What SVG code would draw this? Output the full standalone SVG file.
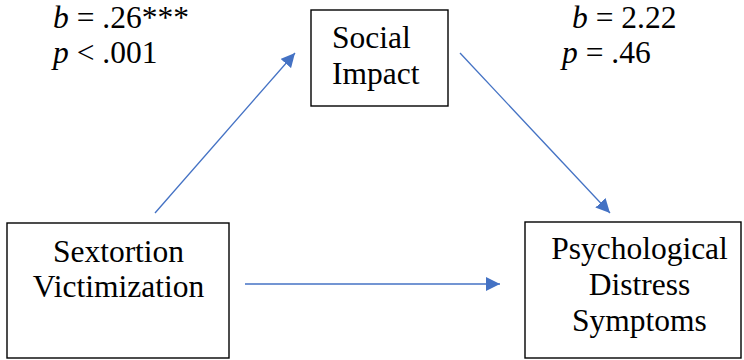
<svg xmlns="http://www.w3.org/2000/svg" width="744" height="360" viewBox="0 0 744 360">
<style>
.box{fill:#fff;stroke:#000;stroke-width:1.4}
.t{font-family:'Liberation Serif','Times New Roman',serif;font-size:31.5px;fill:#000}
.c{stroke:#4472C4;stroke-width:1.3;fill:none}
</style>
<defs>
<marker id="ah" viewBox="0 0 14 14" refX="14" refY="7" markerWidth="14" markerHeight="14" markerUnits="userSpaceOnUse" orient="auto">
<path d="M0,0 L14,7 L0,14 Z" fill="#4472C4"/>
</marker>
</defs>
<rect width="744" height="360" fill="#fff"/>
<g id="connectors">
<line class="c" x1="155" y1="213" x2="295" y2="53" marker-end="url(#ah)"/>
<line class="c" x1="460" y1="53" x2="610" y2="213" marker-end="url(#ah)"/>
<line class="c" x1="245" y1="284" x2="500" y2="284" marker-end="url(#ah)"/>
</g>
<g id="social-impact">
<rect class="box" x="311" y="10" width="137" height="96"/>
<text class="t" x="332" y="48">Social</text>
<text class="t" x="332" y="84">Impact</text>
</g>
<g id="sextortion-victimization">
<rect class="box" x="7" y="223" width="222" height="135"/>
<text class="t" x="118.5" y="262" text-anchor="middle">Sextortion</text>
<text class="t" x="118.5" y="297" text-anchor="middle">Victimization</text>
</g>
<g id="psychological-distress">
<rect class="box" x="525" y="222" width="216" height="136"/>
<text class="t" x="639.5" y="259" text-anchor="middle">Psychological</text>
<text class="t" x="639.5" y="295" text-anchor="middle">Distress</text>
<text class="t" x="639.5" y="331" text-anchor="middle">Symptoms</text>
</g>
<g id="labels">
<text class="t" x="53" y="28"><tspan font-style="italic">b</tspan> = .26***</text>
<text class="t" x="53" y="63"><tspan font-style="italic">p</tspan> &lt; .001</text>
<text class="t" x="572" y="28"><tspan font-style="italic">b</tspan> = 2.22</text>
<text class="t" x="562" y="63"><tspan font-style="italic">p</tspan> = .46</text>
</g>
</svg>
